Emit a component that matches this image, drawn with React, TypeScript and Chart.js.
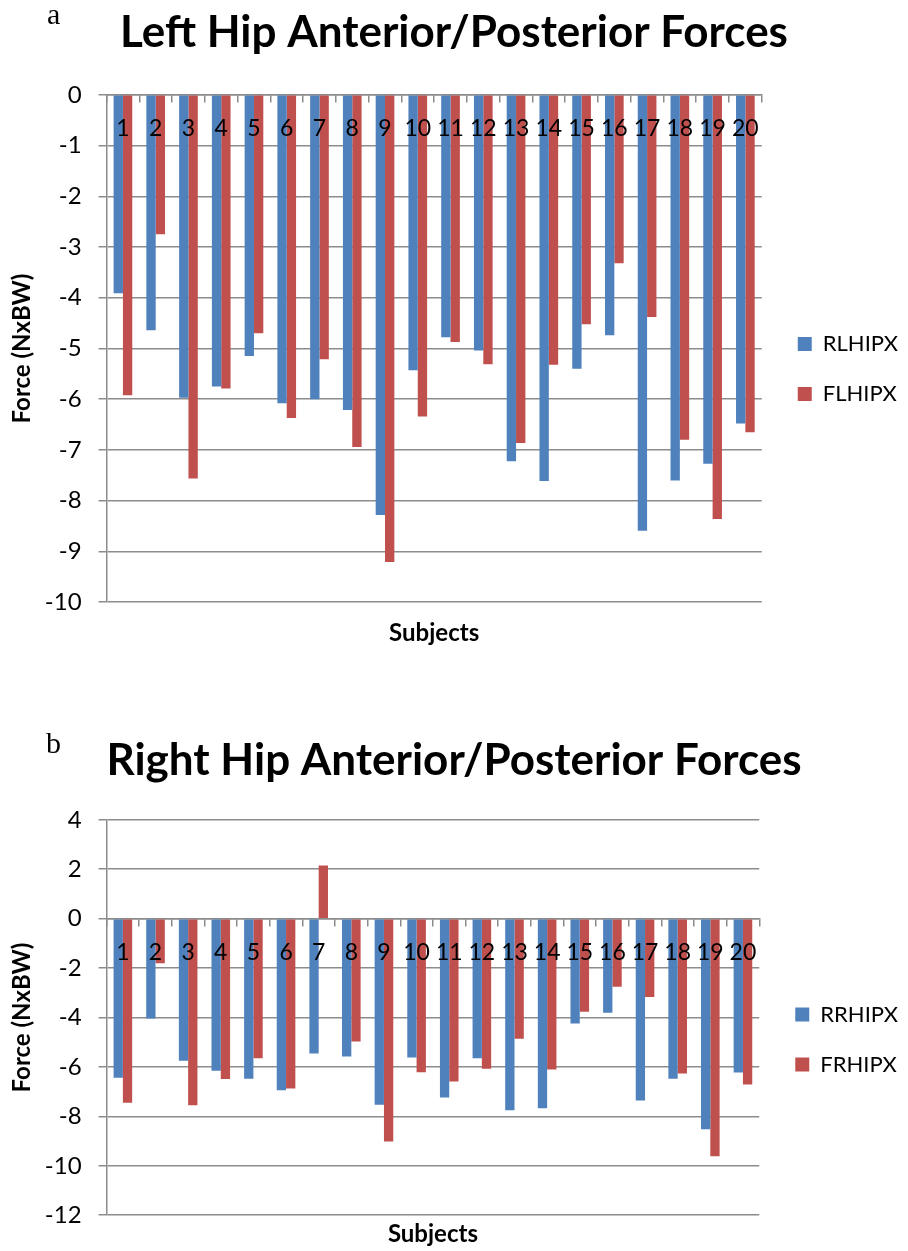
import React, { useEffect, useRef } from 'react';
import { Chart, registerables } from 'chart.js';

Chart.register(...registerables);

// ---------- data ----------
const categories = ['1', '2', '3', '4', '5', '6', '7', '8', '9', '10', '11', '12', '13', '14', '15', '16', '17', '18', '19', '20'];

const rlhipx = [-3.91, -4.64, -5.97, -5.75, -5.15, -6.08, -6.0, -6.21, -8.28, -5.43, -4.78, -5.04, -7.22, -7.61, -5.4, -4.74, -8.59, -7.6, -7.27, -6.48];
const flhipx = [-5.92, -2.75, -7.56, -5.79, -4.7, -6.37, -5.21, -6.94, -9.21, -6.34, -4.87, -5.31, -6.86, -5.32, -4.52, -3.32, -4.38, -6.8, -8.36, -6.65];

const rrhipx = [-6.44, -4.04, -5.75, -6.15, -6.48, -6.94, -5.46, -5.58, -7.53, -5.62, -7.24, -5.65, -7.75, -7.67, -4.24, -3.81, -7.36, -6.48, -8.52, -6.23];
const frhipx = [-7.45, -1.8, -7.55, -6.49, -5.65, -6.87, 2.15, -4.97, -9.02, -6.22, -6.59, -6.07, -4.86, -6.1, -3.77, -2.76, -3.17, -6.27, -9.61, -6.71];

const titleA = 'Left Hip Anterior/Posterior Forces';
const titleB = 'Right Hip Anterior/Posterior Forces';
const yTitle = 'Force (NxBW)';
const xTitle = 'Subjects';
const seriesNamesA = ['RLHIPX', 'FLHIPX'];
const seriesNamesB = ['RRHIPX', 'FRHIPX'];

// ---------- styles ----------
const BLUE = '#4F81BD';
const RED = '#C0504D';
const GRID = '#8c8c8c';
const FONT = 'Lato';

type ChartProps = {
  width: number;
  height: number;
  title: string;
  names: string[];
  values: number[][];
  yMin: number;
  yMax: number;
  yStep: number;
  titlePad: { top: number; bottom: number };
  xTitlePad: { top: number; bottom: number };
};

function BarChart(props: ChartProps) {
  const ref = useRef<HTMLCanvasElement>(null);
  useEffect(() => {
    const canvas = ref.current;
    if (!canvas) return;
    const colors = [BLUE, RED];
    const chart = new Chart(canvas, {
      type: 'bar',
      data: {
        labels: categories,
        datasets: props.values.map((vals, i) => ({
          label: props.names[i],
          data: vals,
          backgroundColor: colors[i],
          borderWidth: 0,
          categoryPercentage: 0.57,
          barPercentage: 1.0,
        })),
      },
      options: {
        responsive: false,
        animation: false,
        devicePixelRatio: 1,
        layout: { padding: { left: 0, right: 0, top: 0, bottom: 0 } },
        plugins: {
          title: {
            display: true,
            text: props.title,
            color: '#000',
            font: { family: FONT, size: 44, weight: 'bold' },
            padding: props.titlePad,
          },
          legend: {
            position: 'right',
            labels: {
              boxWidth: 14,
              boxHeight: 14,
              padding: 28,
              color: '#000',
              font: { family: FONT, size: 22 },
            },
          },
          tooltip: { enabled: false },
        },
        scales: {
          x: {
            type: 'category',
            position: { y: 0 } as any,
            grid: {
              offset: true,
              drawOnChartArea: false,
              drawTicks: true,
              tickLength: 7,
              color: GRID,
              lineWidth: 1.5,
            },
            border: { display: true, color: GRID, width: 1.5 },
            ticks: {
              z: 1,
              color: '#000',
              font: { family: FONT, size: 23 },
              padding: 13,
              maxRotation: 0,
              autoSkip: false,
            },
          },
          x2: {
            type: 'category',
            position: 'bottom',
            labels: categories,
            grid: { display: false, drawTicks: false },
            border: { display: false },
            ticks: { display: false },
            title: {
              display: true,
              text: xTitle,
              color: '#000',
              font: { family: FONT, size: 24, weight: 'bold' },
              padding: props.xTitlePad,
            },
          },
          y: {
            type: 'linear',
            position: 'left',
            min: props.yMin,
            max: props.yMax,
            ticks: {
              stepSize: props.yStep,
              color: '#000',
              font: { family: FONT, size: 24 },
              padding: 17,
            },
            grid: { color: GRID, lineWidth: 1.5, tickLength: 8, drawTicks: true },
            border: { display: true, color: GRID, width: 1.5 },
            title: {
              display: true,
              text: yTitle,
              color: '#000',
              font: { family: FONT, size: 24, weight: 'bold' },
              padding: { top: 8, bottom: -9 },
            },
          },
          yR: {
            type: 'linear',
            position: 'right',
            grid: { display: false, drawTicks: false },
            border: { display: false },
            ticks: { display: false },
            afterFit: (s: any) => {
              s.width = 8;
            },
          },
        },
      } as any,
    });
    return () => chart.destroy();
  }, []);
  return (
    <canvas
      ref={ref}
      width={props.width}
      height={props.height}
      style={{ width: props.width, height: props.height, display: 'block' }}
    />
  );
}

export default function App() {
  const letterStyle: React.CSSProperties = {
    position: 'absolute',
    fontFamily: '"Liberation Serif", "Times New Roman", serif',
    fontSize: 30,
    lineHeight: '30px',
    color: '#000',
  };
  return (
    <div
      style={{
        position: 'absolute',
        left: 0,
        top: 0,
        width: 908,
        height: 1251,
        overflow: 'hidden',
        background: '#fff',
      }}
    >
      <div style={{ position: 'absolute', left: 0, top: 0 }}>
        <BarChart
          width={908}
          height={738}
          title={titleA}
          names={seriesNamesA}
          values={[rlhipx, flhipx]}
          yMin={-10}
          yMax={0}
          yStep={1}
          titlePad={{ top: 6, bottom: 36 }}
          xTitlePad={{ top: 17, bottom: 90 }}
        />
      </div>
      <div style={{ position: 'absolute', left: 0, top: 700 }}>
        <BarChart
          width={908}
          height={679}
          title={titleB}
          names={seriesNamesB}
          values={[rrhipx, frhipx]}
          yMin={-12}
          yMax={4}
          yStep={2}
          titlePad={{ top: 34, bottom: 33 }}
          xTitlePad={{ top: 5, bottom: 130 }}
        />
      </div>
      <div style={{ ...letterStyle, left: 47, top: -1 }}>a</div>
      <div style={{ ...letterStyle, left: 46, top: 728 }}>b</div>
    </div>
  );
}
